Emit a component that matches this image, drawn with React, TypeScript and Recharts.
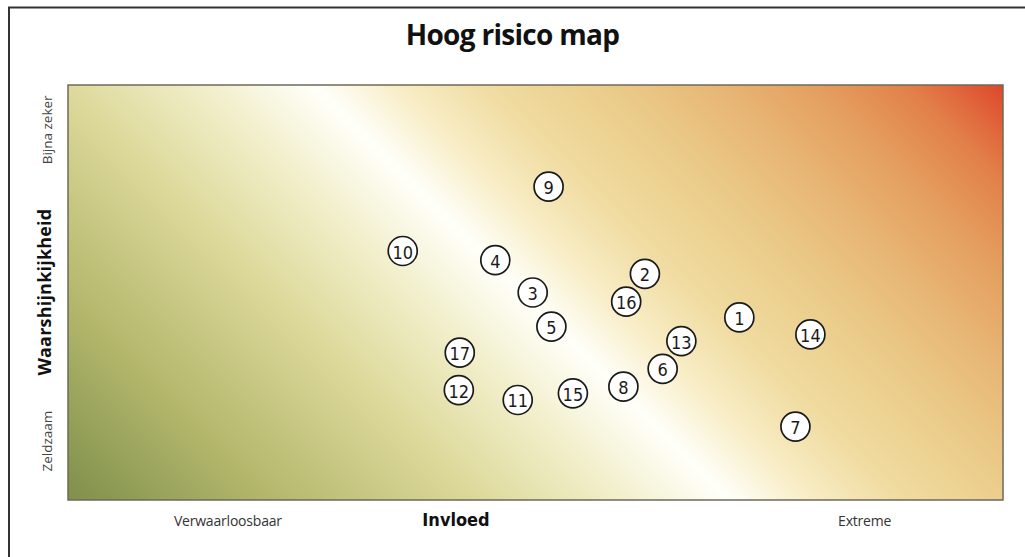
import React from 'react';
import {
  ScatterChart,
  Scatter,
  XAxis,
  YAxis,
  ReferenceArea,
} from 'recharts';

// risk ids with impact (x) and likelihood (y), both 0..100
const riskIds = [1, 2, 3, 4, 5, 6, 7, 8, 9, 10, 11, 12, 13, 14, 15, 16, 17];
const impact = [71.8, 61.7, 49.7, 45.7, 51.7, 63.6, 77.8, 59.4, 51.4, 35.8, 48.1, 41.8, 65.6, 79.4, 54.0, 59.7, 41.9];
const likelihood = [44.0, 54.5, 50.0, 57.8, 41.8, 31.6, 17.7, 27.3, 75.5, 60.0, 24.1, 26.5, 38.3, 39.9, 25.7, 47.8, 35.5];

const xTickPos = [17.1, 41.5, 85.2];
const xTickLabels = ['Verwaarloosbaar', 'Invloed', 'Extreme'];
const yTickPos = [89.2, 50.1, 14.2];
const yTickLabels = ['Bijna zeker', 'Waarshijnkijkheid', 'Zeldzaam'];

const W = 1025;
const H = 557;
const PL = 68;
const PT = 85;
const PR = 1003;
const PB = 500;

const FONT = "'Open Sans', 'Noto Sans', sans-serif";
const NARROW = "'Liberation Sans Narrow', 'DejaVu Sans Condensed', sans-serif";

const data = riskIds.map((id, i) => ({ id, x: impact[i], y: likelihood[i] }));

// gradient runs at 45 degrees from bottom-left to top-right corner
const half = (PR - PT - PL + PB) / 2;

const stops: [number, string][] = [
  [0, '#7f8f4b'],
  [0.15, '#b3b76c'],
  [0.3, '#dcd899'],
  [0.41, '#f2efcc'],
  [0.49, '#fffffa'],
  [0.55, '#f8edc6'],
  [0.62, '#f0dba0'],
  [0.7, '#ebcd8b'],
  [0.78, '#e8b877'],
  [0.86, '#e49f5f'],
  [0.93, '#e27f48'],
  [1, '#de472b'],
];

function XTick(props: any) {
  const { x, payload, index } = props;
  const bold = index === 1;
  return (
    <text
      x={x}
      y={PB + 26}
      textAnchor="middle"
      fontFamily={bold ? NARROW : FONT}
      fontWeight={bold ? 700 : 400}
      fontSize={bold ? 18 : 14}
      fill={bold ? '#111' : '#333'}
      letterSpacing={bold ? 0 : -0.2}
    >
      {xTickLabels[xTickPos.indexOf(payload.value)]}
    </text>
  );
}

function YTick(props: any) {
  const { y, payload, index } = props;
  const bold = index === 1;
  const x = bold ? 44 : 47;
  return (
    <text
      x={x}
      y={y}
      transform={`rotate(-90 ${x} ${y})`}
      textAnchor="middle"
      dominantBaseline="central"
      fontFamily={FONT}
      fontWeight={bold ? 700 : 400}
      fontSize={bold ? 18 : 13.5}
      letterSpacing={bold ? 0.2 : 0}
      fill={bold ? '#111' : '#444'}
    >
      {yTickLabels[yTickPos.indexOf(payload.value)]}
    </text>
  );
}

function Bubble(props: any) {
  const { cx, cy, payload } = props;
  return (
    <g>
      <circle cx={cx} cy={cy} r={14.5} fill="#fff" stroke="#1a1a1a" strokeWidth={1.7} />
      <text
        x={cx}
        y={cy + 1}
        textAnchor="middle"
        dominantBaseline="central"
        fontFamily={NARROW}
        fontSize={18}
        fill="#1a1a1a"
      >
        {payload.id}
      </text>
    </g>
  );
}

export default function App() {
  return (
    <div style={{ position: 'absolute', left: 0, top: 0, width: W, height: H, overflow: 'hidden', background: '#fff' }}>
      <div style={{ position: 'absolute', left: 0, top: 0 }}>
        <ScatterChart width={W} height={H} margin={{ top: PT, right: W - PR, bottom: 0, left: 0 }}>
          <defs>
            <linearGradient id="riskLin" gradientUnits="userSpaceOnUse" x1={PL} y1={PB} x2={PL + half} y2={PB - half}>
              {stops.map(([o, c]) => (
                <stop key={o} offset={o} stopColor={c} />
              ))}
            </linearGradient>
          </defs>
          <XAxis
            type="number"
            dataKey="x"
            domain={[0, 100]}
            height={H - PB}
            ticks={xTickPos}
            interval={0}
            axisLine={false}
            tickLine={false}
            tick={<XTick />}
          />
          <YAxis
            type="number"
            dataKey="y"
            domain={[0, 100]}
            width={PL}
            ticks={yTickPos}
            interval={0}
            axisLine={false}
            tickLine={false}
            tick={<YTick />}
          />
          <ReferenceArea x1={0} x2={100} y1={0} y2={100} fill="url(#riskLin)" fillOpacity={1} stroke="#6d6b5b" strokeWidth={1.5} />
          <Scatter data={data} shape={<Bubble />} isAnimationActive={false} />
        </ScatterChart>
      </div>
      <div
        style={{
          position: 'absolute',
          left: 0,
          width: W,
          top: 15,
          textAlign: 'center',
          fontFamily: FONT,
          fontWeight: 700,
          fontSize: 28,
          color: '#111',
          letterSpacing: -0.7,
        }}
      >
        Hoog risico map
      </div>
      <svg width={W} height={H} style={{ position: 'absolute', left: 0, top: 0, pointerEvents: 'none' }}>
        <path d={`M9 ${H} V7.5 H${W}`} fill="none" stroke="#333" strokeWidth={2} />
      </svg>
    </div>
  );
}
